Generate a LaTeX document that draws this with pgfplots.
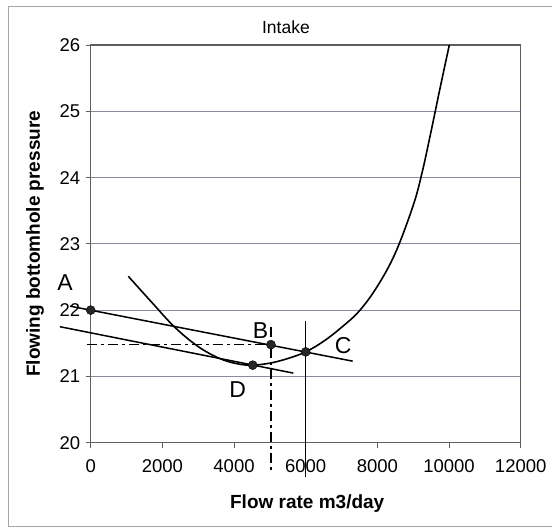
\documentclass[border=0pt]{standalone}
\usepackage{fontspec}
\setmainfont{Liberation Sans}
\usepackage{pgfplots}
\pgfplotsset{compat=1.18}

\definecolor{gridc}{RGB}{135,140,160}
\definecolor{axc}{RGB}{95,95,95}

\begin{document}
\begin{tikzpicture}
\path[use as bounding box] (0,0) rectangle (552pt,527pt);
% chart frame (scanned Excel border)
\draw[gray!70,line width=0.8pt] (552pt,1pt) -- (8.3pt,1pt) -- (8.3pt,520.3pt) -- (552pt,520.3pt);

\begin{axis}[
 at={(90.7pt,84.3pt)},anchor=south west,
 scale only axis,width=430pt,height=397.7pt,
 xmin=0,xmax=12000,ymin=20,ymax=26,
 xtick={0,2000,...,12000},ytick={20,21,...,26},
 scaled ticks=false,
 /pgf/number format/assume math mode=true,
 /pgf/number format/set thousands separator={},
 tick pos=left,tick align=outside,major tick length=5pt,
 tick style={axc,line width=0.8pt},
 ymajorgrids=true,grid style={gridc,line width=0.8pt},
 axis line style={axc,line width=1.3pt},
 ticklabel style={font=\fontsize{18.5}{21}\selectfont},
 yticklabel style={anchor=east,xshift=-2pt},
 xticklabel style={anchor=north,yshift=-8pt},
 xlabel={\bfseries Flow rate m3/day},
 ylabel={\bfseries Flowing bottomhole pressure},
 label style={font=\fontsize{19}{22}\selectfont},
 xlabel style={at={(axis description cs:0.5035,-0.152)},anchor=center},
 ylabel style={at={(axis description cs:-0.1295,0.5)},anchor=center},
 title={Intake},
 title style={at={(axis description cs:0.454,1.029)},anchor=center,font=\fontsize{17.5}{20}\selectfont},
 clip=false,
]
% intake curve
\addplot[black,line width=1.6pt,smooth,tension=0.6] coordinates {
 (1050,22.51) (1700,22.12) (2350,21.74) (3000,21.45) (3600,21.27)
 (4100,21.19) (4500,21.17) (5000,21.20) (5500,21.27) (6000,21.37)
 (6500,21.53) (7000,21.74) (7500,21.99) (8000,22.36) (8500,22.86)
 (9000,23.58) (9250,24.08) (9500,24.70) (9750,25.35) (10008,26.00)};
% line through A and C
\addplot[black,line width=1.5pt] coordinates {(-577,22.06) (7311,21.23)};
% tangent through D
\addplot[black,line width=1.5pt] coordinates {(-860,21.75) (5655,21.05)};
% dash-dot construction lines at B
\addplot[black,line width=1.5pt,dash pattern=on 10pt off 4pt on 3pt off 4pt] coordinates {(-95,21.48) (5030,21.48)};
\addplot[black,line width=1.5pt,dash pattern=on 10pt off 4pt on 3pt off 4pt] coordinates {(5030,21.75) (5030,19.56)};
% vertical through C
\addplot[black,line width=1.5pt] coordinates {(6000,21.83) (6000,19.49)};
% points A, B, C, D
\addplot[only marks,mark=*,mark size=4.5pt,mark options={fill=black!85,draw=black}] coordinates {
 (0,22) (5030,21.48) (6000,21.37) (4521,21.17)};
\node[font=\fontsize{23}{26}\selectfont] at (axis cs:-714,22.41) {A};
\node[font=\fontsize{23}{26}\selectfont] at (axis cs:4741,21.69) {B};
\node[font=\fontsize{23}{26}\selectfont] at (axis cs:7049,21.46) {C};
\node[font=\fontsize{23}{26}\selectfont] at (axis cs:4102,20.80) {D};
\end{axis}
\end{tikzpicture}
\end{document}
